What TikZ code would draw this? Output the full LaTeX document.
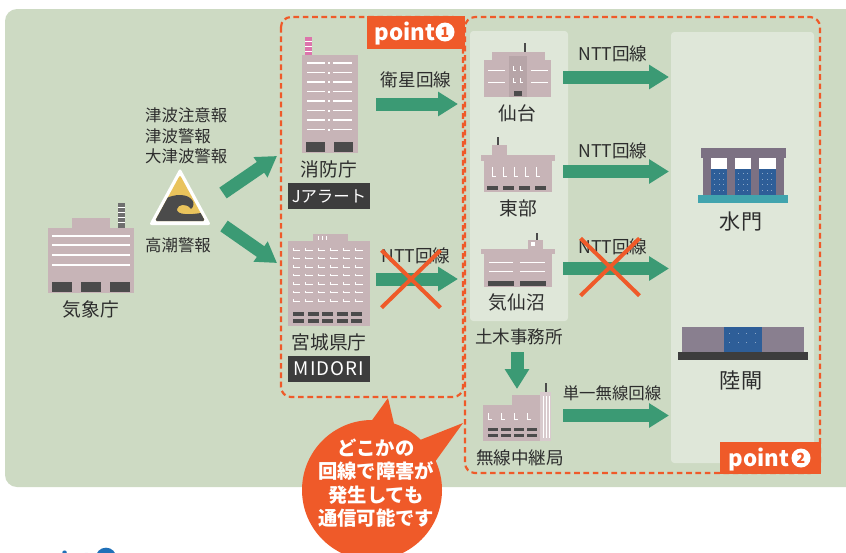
\documentclass[tikz,border=0pt]{standalone}
\usepackage{fontspec}
\setmainfont{Noto Sans CJK JP}
\usetikzlibrary{arrows.meta,shapes.misc}

\definecolor{bggreen}{HTML}{CDDAC3}
\definecolor{panel}{HTML}{DFE7D9}
\definecolor{alert}{HTML}{EF5A29}
\definecolor{linegreen}{HTML}{3B9A74}
\definecolor{bldg}{HTML}{C7B4B7}
\definecolor{win}{HTML}{4B4B4B}
\definecolor{ink}{HTML}{2D2D2D}
\definecolor{tagdark}{HTML}{3D3D3D}
\definecolor{signyellow}{HTML}{E9C35C}
\definecolor{gateframe}{HTML}{7C7183}
\definecolor{gateblue}{HTML}{2E5E98}
\definecolor{gatebase}{HTML}{41A4AE}
\definecolor{headblue}{HTML}{1F70B8}

\tikzset{
    pipe/.style={draw=linegreen, line width=0.39cm,
        -{Triangle[length=0.6cm, width=0.7cm]}},
    zone/.style={draw=alert, line width=0.065cm,
        dash pattern=on 0.17cm off 0.11cm, rounded corners=0.3cm},
    lbl/.style={text=ink, inner sep=0pt, font=\fontsize{16}{19}\selectfont},
    linelbl/.style={text=ink, inner sep=0pt, font=\fontsize{15}{18}\selectfont},
    sysbox/.style={fill=tagdark, text=white, inner sep=0pt,
        minimum width=2.46cm, minimum height=0.79cm},
    cutmark/.style={draw=alert, cross out, line width=0.12cm, inner sep=0pt,
        minimum width=1.65cm, minimum height=1.6cm},
    tagtxt/.style={text=white, inner sep=0pt,
        font=\bfseries\fontsize{19}{22}\selectfont},
    tagnum/.style={circle, fill=white, text=alert, inner sep=0pt,
        minimum size=0.57cm, font=\bfseries\fontsize{12}{12}\selectfont},
    stripe/.style={white, line width=0.05cm},
    thinstripe/.style={white, line width=0.03cm},
}

\begin{document}
\begin{tikzpicture}[x=0.03cm, y=-0.03cm]

    \useasboundingbox (0,0) rectangle (846,552);
    \clip (0,0) rectangle (846,552);

    % back panel and the two light columns
    \fill[bggreen, rounded corners=0.36cm] (5,9) rectangle (900,487);
    \fill[panel, rounded corners=0.1cm] (470,31) rectangle (568,321);
    \fill[panel, rounded corners=0.1cm] (671,32) rectangle (814,463);

    % --- 気象庁
    \fill[bldg] (72,218) rectangle (110,228);
    \fill[bldg] (48,228) rectangle (134,293);
    \fill[win!80] (118,203) rectangle (125,228);
    \foreach \y in {207,212,217,222}
        \draw[thinstripe] (118,\y) -- (125,\y);
    \foreach \y in {236,245,255,265}
        \draw[stripe] (52,\y) -- (130,\y);
    \foreach \x in {52,81,110}
        \fill[win] (\x,282) rectangle ++(20,10);
    \node[lbl] (jma) at (91,309) {気象庁};

    % warning sign and the kinds of warning
    \node[linelbl, anchor=west, align=left,
        font=\fontsize{14}{17.5}\selectfont] (tsunami) at (145,136)
        {津波注意報\\津波警報\\大津波警報};
    \node[linelbl, anchor=west, font=\fontsize{14}{17}\selectfont]
        (storm) at (145,245) {高潮警報};
    \fill[white, rounded corners=0.08cm] (180,168) -- (211,225) -- (149,225) -- cycle;
    \begin{scope}
        \clip[rounded corners=0.05cm] (180,175) -- (205,221) -- (155,221) -- cycle;
        \fill[signyellow] (150,165) rectangle (210,225);
        \fill[win] (150,225) -- (150,210)
            .. controls (160,200) and (170,195) .. (180,195)
            .. controls (192,195) and (197,204) .. (191,209)
            .. controls (187,203) and (178,204) .. (177,209)
            .. controls (176,215) and (190,216) .. (210,211)
            -- (210,225) -- cycle;
    \end{scope}

    \coordinate (jma-up) at (223,193);
    \coordinate (jma-dn) at (224,226);
    \coordinate (fdma-in) at (277,156);
    \coordinate (pref-in) at (277,263);
    \draw[pipe] (jma-up) -- (fdma-in);
    \draw[pipe] (jma-dn) -- (pref-in);

    % --- 消防庁
    \fill[magenta!45!bldg] (305,37) rectangle (312,55);
    \foreach \y in {41,46,51}
        \draw[thinstripe] (305,\y) -- (312,\y);
    \fill[bldg] (302,55) rectangle (358,153);
    \foreach \y in {63,72.5,...,131} {
        \draw[stripe] (307,\y) -- (325,\y);
        \draw[stripe] (333,\y) -- (352,\y);
        \fill[white] (328,\y-1) rectangle (330,\y+1);
    }
    \fill[win] (306,142) rectangle (325,152);
    \fill[win] (334,142) rectangle (353,152);
    \node[lbl] (fdma) at (329,169) {消防庁};
    \node[sysbox, font=\fontsize{14}{16}\selectfont] (jalert) at (329,196) {Jアラート};

    \node[linelbl] (sat) at (416,80) {衛星回線};
    \coordinate (sat-a) at (376,104);
    \coordinate (sat-b) at (458,104);
    \draw[pipe] (sat-a) -- (sat-b);

    % --- 宮城県庁
    \fill[bldg] (313,234) rectangle (348,242);
    \foreach \x in {318,322,326}
        \draw[thinstripe] (\x,236) -- (\x,240);
    \fill[bldg] (288,241) rectangle (370,326);
    \foreach \x in {293,305.5,...,357}
        \foreach \y in {250,258.5,...,303}
            \draw[thinstripe] (\x,\y-2) -- (\x,\y) -- (\x+7,\y);
    \foreach \x in {293,307.5,...,352} {
        \fill[win] (\x,312) rectangle ++(11,4);
        \fill[win] (\x,319) rectangle ++(11,4);
    }
    \node[lbl] (pref) at (329,342) {宮城県庁};
    \node[sysbox, font=\fontsize{16}{18}\selectfont\addfontfeature{LetterSpace=6}]
        (midori) at (329,369) {MIDORI};

    \node[linelbl] (ntt0) at (416,256) {NTT回線};
    \coordinate (pref-a) at (376,279);
    \coordinate (pref-b) at (458,279);
    \draw[pipe] (pref-a) -- (pref-b);
    \node[cutmark] (cut0) at (411,279) {};

    % --- 仙台
    \fill[bldg] (492,52) rectangle (545,60);
    \fill[win] (524,43) rectangle (526,52);
    \fill[bldg] (484,60) rectangle (551,97);
    \fill[bldg!92!black] (509,56) rectangle (527,97);
    \foreach \y in {70,82} {
        \draw[thinstripe] (488,\y) -- (505,\y);
        \draw[thinstripe] (531,\y) -- (548,\y);
        \draw[thinstripe] (513,\y-4) -- (513,\y) -- (516,\y);
        \draw[thinstripe] (520,\y-4) -- (520,\y) -- (523,\y);
    }
    \fill[win] (514,91) rectangle (522,96);
    \node[lbl] (sendai) at (517,113) {仙台};

    % --- 東部
    \fill[bldg] (492,145) rectangle (507,156);
    \fill[win] (497,137) rectangle (499,145);
    \fill[bldg] (481,155) rectangle (555,161);
    \fill[bldg] (484,160) rectangle (552,192);
    \foreach \x in {492,503,...,540}
        \draw[thinstripe] (\x,167) -- (\x,176) -- (\x+4,176);
    \foreach \x in {487,503,519,535}
        \fill[win] (\x,186) rectangle ++(11,4);
    \node[lbl] (tobu) at (518,208) {東部};

    % --- 気仙沼
    \fill[bldg] (528,240) rectangle (543,250);
    \fill[white] (531,242) rectangle (535,246);
    \fill[win] (536,233) rectangle (538,240);
    \fill[bldg] (481,249) rectangle (555,254);
    \fill[bldg] (484,254) rectangle (552,287);
    \foreach \y in {262,271} {
        \draw[thinstripe] (489,\y) -- (513,\y);
        \draw[thinstripe] (520,\y) -- (545,\y);
    }
    \fill[win] (488,281) rectangle (514,286);
    \fill[win] (520,281) rectangle (546,286);
    \node[lbl] (kesen) at (517,302) {気仙沼};
    \node[linelbl] (doboku) at (519,337) {土木事務所};

    \coordinate (doboku-a) at (517,352);
    \coordinate (relay-in) at (517,389);
    \draw[pipe] (doboku-a) -- (relay-in);

    % --- 無線中継局
    \fill[bldg] (512,395) rectangle (541,405);
    \fill[bldg] (483,405) rectangle (541,441);
    \fill[bldg!70!white] (540,392) rectangle (551,441);
    \foreach \x in {543,546,549}
        \draw[white, line width=0.02cm] (\x,396) -- (\x,438);
    \fill[win] (545,383) rectangle (547,392);
    \foreach \x in {488,501,514,527} {
        \draw[thinstripe] (\x,413) -- (\x,419) -- (\x+4,419);
        \fill[win] (\x,428) rectangle ++(10,3);
        \fill[win] (\x,434) rectangle ++(10,3);
    }
    \node[linelbl] (relay) at (520,458) {無線中継局};

    % lines out to the gates
    \node[linelbl] (ntt1) at (613,54) {NTT回線};
    \node[linelbl] (ntt2) at (613,151) {NTT回線};
    \node[linelbl] (ntt3) at (613,247) {NTT回線};
    \node[linelbl, font=\fontsize{14}{17}\selectfont] (radio) at (612,393) {単一無線回線};
    \coordinate (sendai-out) at (563,77);
    \coordinate (tobu-out) at (563,171.5);
    \coordinate (kesen-out) at (563,268.5);
    \coordinate (relay-out) at (563,415.5);
    \coordinate (gate-in1) at (669,77);
    \coordinate (gate-in2) at (669,171.5);
    \coordinate (gate-in3) at (669,268.5);
    \coordinate (gate-in4) at (669,415.5);
    \draw[pipe] (sendai-out) -- (gate-in1);
    \draw[pipe] (tobu-out) -- (gate-in2);
    \draw[pipe] (kesen-out) -- (gate-in3);
    \draw[pipe] (relay-out) -- (gate-in4);
    \node[cutmark] (cut1) at (610,267) {};

    % --- 水門
    \fill[gateframe] (701,148) rectangle (786,158);
    \foreach \x in {703,727,751,776}
        \fill[gateframe] (\x,158) rectangle ++(8,38);
    \foreach \x/\w in {711/16,735/16,759/17} {
        \fill[white] (\x,158) rectangle ++(\w,11);
        \fill[gateblue] (\x,169) rectangle ++(\w,27);
        \foreach \i in {0,1,2}
            \foreach \j in {0,1,2,3}
                \fill[gateblue!55!white] (\x+3+\i*4.5,173+\j*5.5)
                    rectangle ++(1,1);
    }
    \fill[gatebase] (698,195) rectangle (788,203);
    \node[lbl, font=\fontsize{18}{20}\selectfont] (gate) at (741,222) {水門};

    % --- 陸閘
    \fill[gateframe!90!white] (682,327) rectangle (804,352);
    \fill[gateblue] (724,327) rectangle (762,352);
    \foreach \i in {0,1,2,3}
        \foreach \j in {0,1}
            \fill[gateblue!55!white] (729+\i*8.5,333+\j*9) rectangle ++(1,1);
    \fill[tagdark] (678,352) rectangle (808,360);
    \node[lbl, font=\fontsize{18}{20}\selectfont] (landgate) at (741,380) {陸閘};

    % dashed zones and their tags
    \draw[zone] (281,17) rectangle (463,397);
    \draw[zone] (465,17) rectangle (820,473);

    \fill[alert] (367,16) rectangle (465,49);
    \node[tagtxt, anchor=base] (tag1) at (405,40) {point};
    \node[tagnum] (tag1n) at (445,32) {1};
    \fill[alert] (720,442) rectangle (821,474);
    \node[tagtxt, anchor=base] (tag2) at (759,466) {point};
    \node[tagnum] (tag2n) at (801,458) {2};

    % speech bubble
    \fill[alert] (372,490) circle[radius=2.1cm];
    \fill[alert] (365,430) -- (388,398) -- (395,428) -- cycle;
    \fill[alert] (420,440) -- (463,423) -- (432,466) -- cycle;
    \node[text=white, align=center, inner sep=0pt,
        font=\bfseries\fontsize{16.5}{20}\selectfont] (note) at (376,483)
        {どこかの\\回線で障害が\\発生しても\\通信可能です};

    % next heading, running off the page
    \node[text=headblue, anchor=base west, inner sep=0pt,
        font=\bfseries\fontsize{19}{20}\selectfont] (head) at (32,569) {point};
    \fill[headblue] (106,558) circle[radius=0.31cm];

\end{tikzpicture}
\end{document}
